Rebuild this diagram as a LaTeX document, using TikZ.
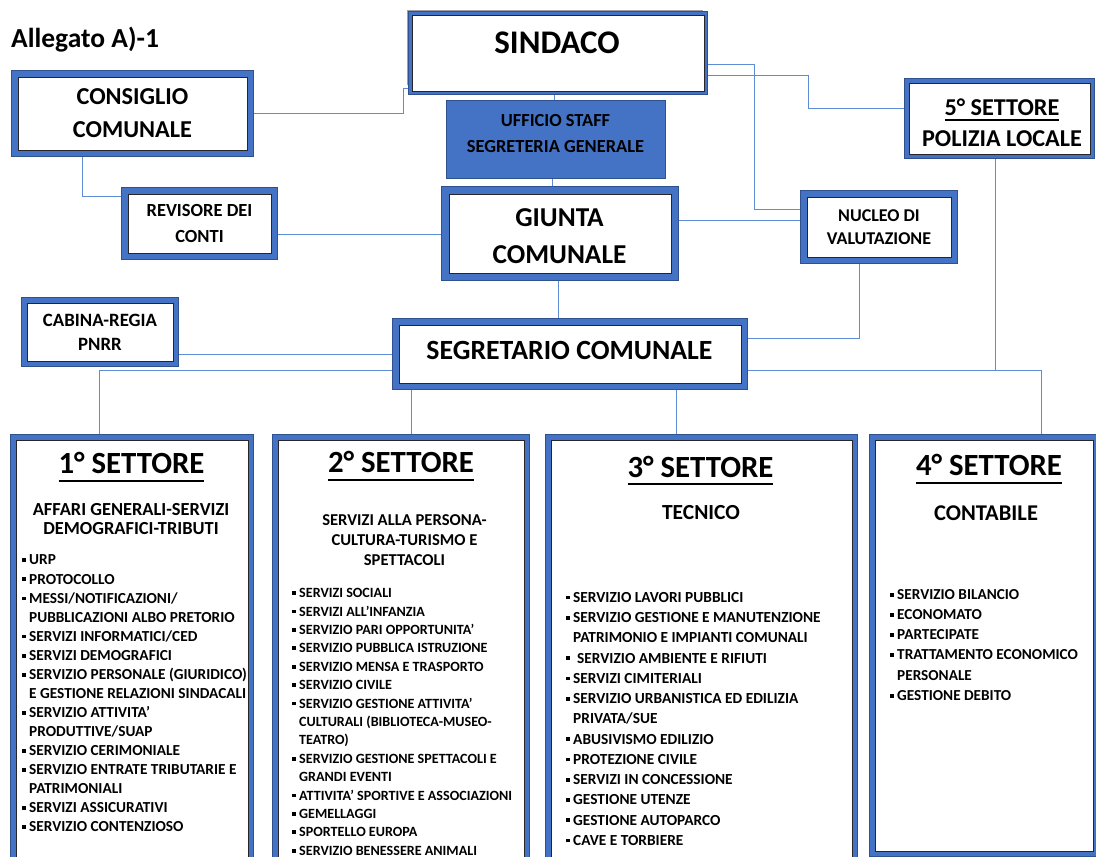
\documentclass[tikz,border=0pt]{standalone}
\usepackage{fontspec}
\setmainfont{Carlito}[BoldFont={Carlito Bold}]
\usetikzlibrary{backgrounds}
\definecolor{bblue}{HTML}{4472C4}
\definecolor{bdark}{HTML}{2F528F}
\definecolor{lblue}{RGB}{95,140,215}
\newcommand\myul[3]{\setbox0\hbox{#1}\rlap{\smash{\rule[#2]{\wd0}{#3}}}\box0}
\newcommand\itm[1]{\par\noindent\strut\llap{\raisebox{2.8pt}{\rule{3.8pt}{3.8pt}}\hspace{3.4pt}}#1}
\begin{document}
\begin{tikzpicture}[x=1pt,y=-1pt,
  box/.style={draw=black!85, line width=0.7pt, fill=white, inner sep=0pt, align=center,
     preaction={draw=bdark, line width=#1+1.4pt}, preaction={draw=bblue, line width=#1}},
  conn/.style={draw=lblue, line width=1pt},
  txt/.style={inner sep=0pt, align=center},
  ttl/.style={inner sep=0pt, font=\fontsize{30.8}{36}\selectfont\bfseries},
  sub/.style={inner sep=0pt, align=center},
  items/.style={inner sep=0pt, anchor=north west, text width=280pt, align=flush left}]
\useasboundingbox (0,0) rectangle (1096,857);
\clip (0,0) rectangle (1096,857);

\node[inner sep=0pt, anchor=base west, font=\fontsize{27.5}{30}\selectfont\bfseries] (alleg) at (11,47) {Allegato A)-1};

\node[box=12pt, minimum width=229pt, minimum height=73pt, font=\fontsize{24.3}{33}\selectfont\bfseries] (consiglio) at (132.5,113.5) {CONSIGLIO\\COMUNALE};
\node[box=12pt, minimum width=143pt, minimum height=59pt, font=\fontsize{18.5}{26}\selectfont\bfseries] (revisore) at (199.5,223.5) {REVISORE DEI\\CONTI};
\draw[gray!75, line width=1pt] (407,85) -- (407,10) -- (703,10);
\node[box=6pt, minimum width=292pt, minimum height=76pt] (sindaco) at (558,53) {};
\node[txt, font=\fontsize{33}{40}\selectfont\bfseries] (sindacoT) at (557,43) {SINDACO};
\node[fill=bblue, draw=bdark, line width=1pt, minimum width=219pt, minimum height=78pt, inner sep=0pt] (ufficio) at (555.5,139) {};
\node[txt, font=\fontsize{18.4}{26}\selectfont\bfseries] (ufficioT) at (555.5,134) {UFFICIO STAFF\\SEGRETERIA GENERALE};
\node[box=14pt, minimum width=222pt, minimum height=79pt] (giunta) at (560,233.5) {};
\node[txt, font=\fontsize{27.3}{37}\selectfont\bfseries] (giuntaT) at (559.5,236.5) {GIUNTA\\COMUNALE};
\node[box=12pt, minimum width=144pt, minimum height=60pt, font=\fontsize{18}{23}\selectfont\bfseries] (nucleo) at (879,227) {NUCLEO DI\\VALUTAZIONE};
\node[box=8pt, minimum width=181pt, minimum height=71pt] (polizia) at (999.5,118.5) {};
\node[txt, font=\fontsize{24.2}{31}\selectfont\bfseries] (poliziaT) at (1002,122.5) {\myul{5° SETTORE}{-5.5pt}{1.6pt}\\POLIZIA LOCALE};
\node[box=10pt, minimum width=146pt, minimum height=58pt, font=\fontsize{18.8}{24}\selectfont\bfseries] (cabina) at (100,332) {CABINA-REGIA\\PNRR};
\node[box=12pt, minimum width=342pt, minimum height=58pt] (segretario) at (570,354) {};
\node[txt, font=\fontsize{27.8}{33}\selectfont\bfseries] (segretarioT) at (569.5,350) {SEGRETARIO COMUNALE};

\node[box=10pt, minimum width=232pt, minimum height=440pt] (s1) at (132,660) {};
\node[box=10pt, minimum width=246pt, minimum height=440pt] (s2) at (401,660) {};
\node[box=10pt, minimum width=301pt, minimum height=440pt] (s3) at (701.5,660) {};
\node[box=10pt, minimum width=218pt, minimum height=411pt] (s4) at (984,645.5) {};

\node[ttl] (t1) at (131.5,463) {\myul{1° SETTORE}{-8.5pt}{2pt}};
\node[ttl] (t2) at (401,462) {\myul{2° SETTORE}{-8.5pt}{2pt}};
\node[ttl] (t3) at (700.5,467) {\myul{3° SETTORE}{-7pt}{2pt}};
\node[ttl] (t4) at (989,465) {\myul{4° SETTORE}{-8.5pt}{2pt}};

\node[sub, font=\fontsize{18.4}{18.5}\selectfont\bfseries] (st1) at (131,519) {AFFARI GENERALI-SERVIZI\\DEMOGRAFICI-TRIBUTI};
\node[sub, font=\fontsize{16.6}{20}\selectfont\bfseries] (st2) at (404.5,540) {SERVIZI ALLA PERSONA-\\CULTURA-TURISMO E\\SPETTACOLI};
\node[sub, font=\fontsize{21.5}{26}\selectfont\bfseries] (st3) at (701,513) {TECNICO};
\node[sub, font=\fontsize{22.5}{26}\selectfont\bfseries] (st4) at (986,513) {CONTABILE};

\node[items, font=\fontsize{15.3}{19.07}\selectfont\bfseries] (l1) at (29,545.7) {%
\itm{URP}\itm{PROTOCOLLO}\itm{MESSI/NOTIFICAZIONI/\\PUBBLICAZIONI ALBO PRETORIO}%
\itm{SERVIZI INFORMATICI/CED}\itm{SERVIZI DEMOGRAFICI}%
\itm{SERVIZIO PERSONALE (GIURIDICO)\\E GESTIONE RELAZIONI SINDACALI}%
\itm{SERVIZIO ATTIVITA’\\PRODUTTIVE/SUAP}\itm{SERVIZIO CERIMONIALE}%
\itm{SERVIZIO ENTRATE TRIBUTARIE E\\PATRIMONIALI}\itm{SERVIZI ASSICURATIVI}\itm{SERVIZIO CONTENZIOSO}};

\node[items, font=\fontsize{14.1}{18.4}\selectfont\bfseries] (l2) at (299,579.1) {%
\itm{SERVIZI SOCIALI}\itm{SERVIZI ALL’INFANZIA}\itm{SERVIZIO PARI OPPORTUNITA’}%
\itm{SERVIZIO PUBBLICA ISTRUZIONE}\itm{SERVIZIO MENSA E TRASPORTO}\itm{SERVIZIO CIVILE}%
\itm{SERVIZIO GESTIONE ATTIVITA’\\CULTURALI (BIBLIOTECA-MUSEO-\\TEATRO)}%
\itm{SERVIZIO GESTIONE SPETTACOLI E\\GRANDI EVENTI}\itm{ATTIVITA’ SPORTIVE E ASSOCIAZIONI}%
\itm{GEMELLAGGI}\itm{SPORTELLO EUROPA}\itm{SERVIZIO BENESSERE ANIMALI}};

\node[items, font=\fontsize{15.35}{20.25}\selectfont\bfseries] (l3) at (573,581.8) {%
\itm{SERVIZIO LAVORI PUBBLICI}\itm{SERVIZIO GESTIONE E MANUTENZIONE\\PATRIMONIO E IMPIANTI COMUNALI}%
\itm{\hspace{4pt}SERVIZIO AMBIENTE E RIFIUTI}\itm{SERVIZI CIMITERIALI}%
\itm{SERVIZIO URBANISTICA ED EDILIZIA\\PRIVATA/SUE}\itm{ABUSIVISMO EDILIZIO}\itm{PROTEZIONE CIVILE}%
\itm{SERVIZI IN CONCESSIONE}\itm{GESTIONE UTENZE}\itm{GESTIONE AUTOPARCO}\itm{CAVE E TORBIERE}};

\node[items, font=\fontsize{15.25}{20.2}\selectfont\bfseries] (l4) at (897,578.9) {%
\itm{SERVIZIO BILANCIO}\itm{ECONOMATO}\itm{PARTECIPATE}%
\itm{TRATTAMENTO ECONOMICO\\PERSONALE}\itm{GESTIONE DEBITO}};

\begin{pgfonlayer}{background}
\coordinate (j4) at (995,370);
\draw[conn] (consiglio.east) -| (403,88) -- ([yshift=-35pt]sindaco.west);
\draw[conn] ([xshift=-50.5pt]consiglio.south) |- ([yshift=27.5pt]revisore.west);
\draw[conn] ([yshift=-10.5pt]revisore.east) -- ([yshift=-10.5pt]revisore.east -| giunta.west);
\draw[conn] ([xshift=-4pt]sindaco.south) -- ([xshift=-4pt]sindaco.south |- ufficio.north);
\draw[conn] ([xshift=-3.5pt]ufficio.south) -- ([xshift=-3.5pt]ufficio.south |- giunta.north);
\draw[conn] ([xshift=-2pt]giunta.south) -- ([xshift=-2pt]giunta.south |- segretario.north);
\draw[conn] ([yshift=-11pt]sindaco.east) -| (754,209) -- ([yshift=18pt]nucleo.west);
\draw[conn] ([yshift=-22pt]sindaco.east) -| (808,108) -- ([yshift=10.5pt]polizia.west);
\draw[conn] ([yshift=13.5pt]giunta.east) -- ([yshift=13.5pt]giunta.east -| nucleo.west);
\draw[conn] ([xshift=-20pt]nucleo.south) |- ([yshift=16pt]segretario.east);
\draw[conn] ([xshift=-4.5pt]polizia.south) -- (j4);
\draw[conn] ([yshift=-16pt]segretario.east) -| ([xshift=57pt]s4.north);
\draw[conn] ([yshift=-22pt]cabina.east) -- ([yshift=-22pt]cabina.east -| segretario.west);
\draw[conn] ([yshift=-16pt]segretario.west) -| ([xshift=-33pt]s1.north);
\draw[conn] ([xshift=-159pt]segretario.south) -- ([xshift=-159pt]segretario.south |- s2.north);
\draw[conn] ([xshift=106pt]segretario.south) -- ([xshift=106pt]segretario.south |- s3.north);
\end{pgfonlayer}
\end{tikzpicture}
\end{document}
